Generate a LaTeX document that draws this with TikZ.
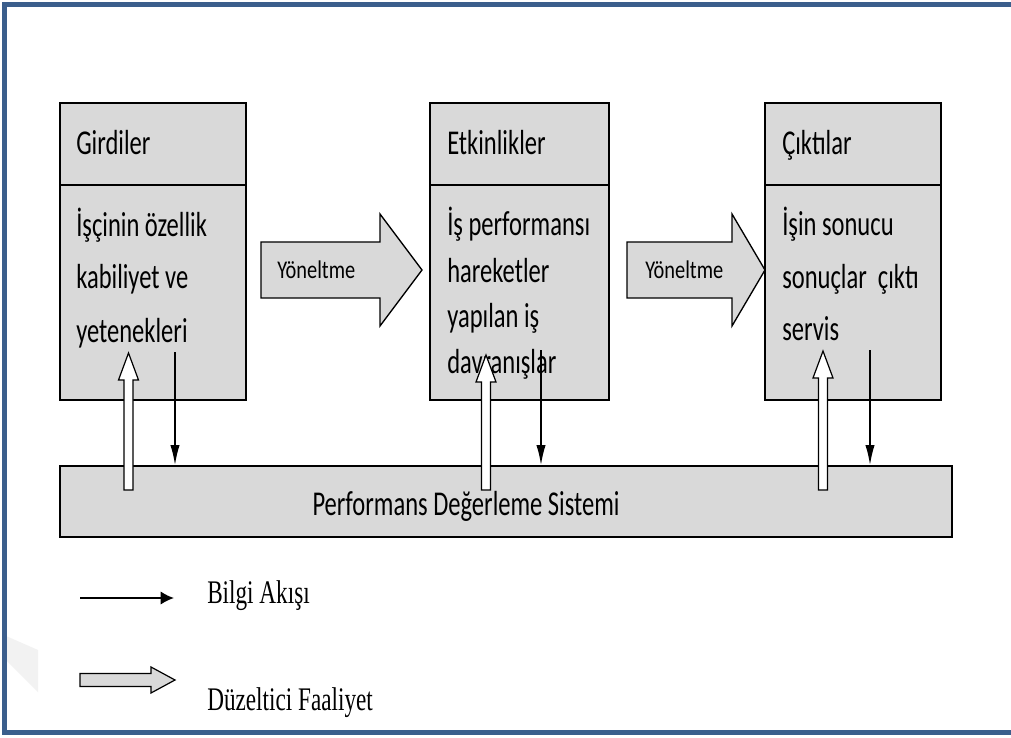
\documentclass[tikz,border=0pt]{standalone}
\usepackage{graphicx}
\usepackage{fontspec}
\setmainfont{Carlito}
\newfontfamily\legendfont{Liberation Serif}
\usetikzlibrary{arrows.meta,fit,calc}
\definecolor{boxgray}{HTML}{D9D9D9}
\definecolor{framec}{HTML}{3B5E8C}
\newcommand\Tall[1]{\scalebox{1}[1.42]{#1}}
\newcommand\Mid[1]{\scalebox{1}[1.25]{#1}}
\newcommand\HollowUp[3]{\draw[corr] (#1-4.5,#2) -- (#1-4.5,#3+27) -- (#1-10,#3+27) -- (#1,#3) -- (#1+10,#3+27) -- (#1+4.5,#3+27) -- (#1+4.5,#2) -- cycle;}
\begin{document}
\begin{tikzpicture}[x=0.75pt,y=-0.75pt,
  box/.style={draw=black, line width=1.5pt, fill=boxgray, inner sep=0pt},
  txt/.style={anchor=base west, inner sep=0pt, font=\fontsize{18.4}{20}\selectfont},
  ytxt/.style={anchor=base west, inner sep=0pt, font=\fontsize{15.3}{17}\selectfont},
  bigarrow/.style={draw=black, line width=1pt, fill=boxgray},
  corr/.style={draw=black, line width=0.9pt, fill=white},
  info/.style={draw=black, line width=1.1pt, -{Latex[length=15pt,width=7pt]}},
  legtxt/.style={anchor=base west, inner sep=0pt, font=\legendfont\fontsize{17.4}{19}\selectfont}
]
\useasboundingbox (0,0) rectangle (1011,738);
\fill[white] (0,0) rectangle (1011,738);
% faint watermark
\fill[black!5] (6,636) -- (38,650) -- (38,692) -- (6,660) -- cycle;
% frame
\draw[framec, line width=3.75pt] (1011,4.5) -- (4.8,4.5) -- (4.8,732.5) -- (1011,732.5);

% boxes
\node[box, fit={(60,103) (246,400)}] (b1) {};
\node[box, fit={(430,103) (609,400)}] (b2) {};
\node[box, fit={(765,103) (941,400)}] (b3) {};
\foreach \b in {b1,b2,b3} \draw[line width=1.5pt] (\b.west |- 0,185) -- (\b.east |- 0,185);
\node[box, fit={(60,466) (952,537)}] (sys) {};

% box texts
\node[txt] (h1) at (76,155) {\Tall{Girdiler}};
\node[txt] (t11) at (76,237) {\Tall{İşçinin özellik}};
\node[txt] (t12) at (76,289) {\Tall{kabiliyet ve}};
\node[txt] (t13) at (76,342) {\Tall{yetenekleri}};

\node[txt] (h2) at (447,155) {\Tall{Etkinlikler}};
\node[txt] (t21) at (447,236) {\Tall{İş performansı}};
\node[txt] (t22) at (447,282) {\Tall{hareketler}};
\node[txt] (t23) at (447,327) {\Tall{yapılan iş}};
\node[txt] (t24) at (447,373) {\Tall{davranışlar}};

\node[txt] (h3) at (782,155) {\Tall{Çıktılar}};
\node[txt] (t31) at (782,236) {\Tall{İşin sonucu}};
\node[txt] (t32) at (782,288) {\Tall{sonuçlar\ \ çıktı}};
\node[txt] (t33) at (782,340) {\Tall{servis}};

\node[anchor=base, inner sep=0pt, font=\fontsize{18.4}{20}\selectfont] (st) at (466,515) {\Tall{Performans Değerleme Sistemi}};

% big arrows
\draw[bigarrow] (261,242) -- (380,242) -- (380,214) -- (422,270) -- (380,326) -- (380,298) -- (261,298) -- cycle;
\node[ytxt] (y1) at (277,278) {\Mid{Yöneltme}};
\draw[bigarrow] (627,242) -- (732,242) -- (732,214) -- (765,270) -- (732,326) -- (732,298) -- (627,298) -- cycle;
\node[ytxt] (y2) at (645,278) {\Mid{Yöneltme}};

% corrective (hollow) arrows
\HollowUp{128.5}{490}{353}
\HollowUp{486}{490}{355}
\HollowUp{823}{490}{351}

% information arrows
\coordinate (d1) at (175,352);
\coordinate (d2) at (541,350);
\coordinate (d3) at (870,350);
\draw[info] (d1) -- (d1 |- sys.north);
\draw[info] (d2) -- (d2 |- sys.north);
\draw[info] (d3) -- (d3 |- sys.north);

% legend
\coordinate (l1a) at (80,598);
\coordinate (l1b) at (174,598);
\draw[black, line width=1.4pt, -{Latex[length=10pt,width=10pt]}] (l1a) -- (l1b);
\node[legtxt] (lt1) at (207,603) {\Tall{Bilgi Akışı}};
\draw[draw=black, line width=0.9pt, fill=boxgray] (80,673.5) -- (151,673.5) -- (151,667) -- (175,680) -- (151,693) -- (151,686.5) -- (80,686.5) -- cycle;
\node[legtxt] (lt2) at (207,710) {\Tall{Düzeltici Faaliyet}};
\end{tikzpicture}
\end{document}
